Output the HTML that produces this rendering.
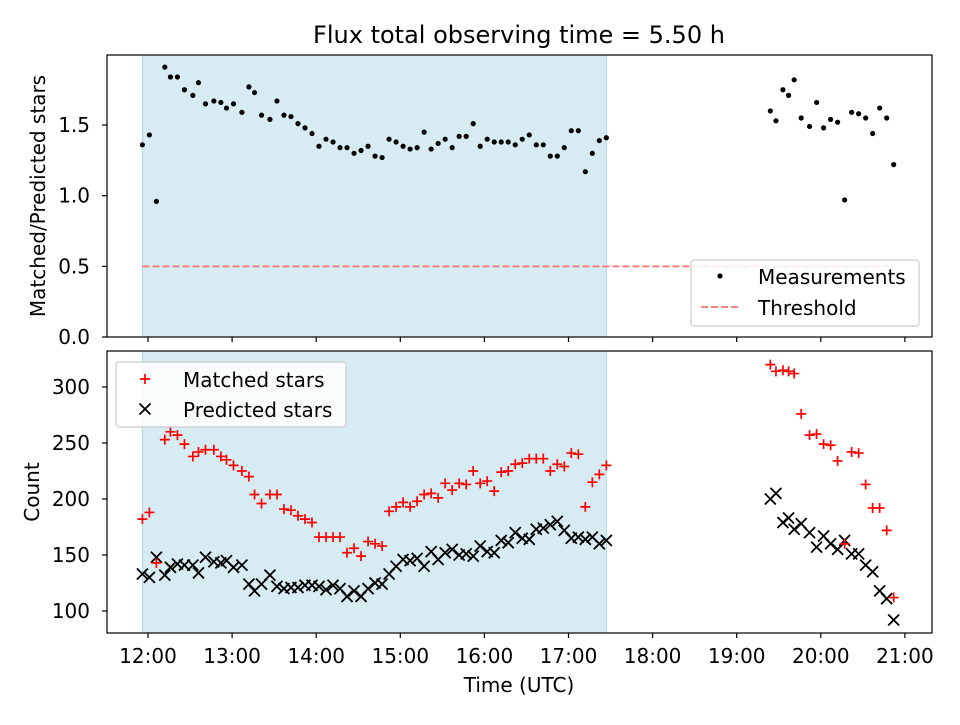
<!DOCTYPE html>
<html><head><meta charset="utf-8"><style>
body{margin:0;background:#fff;}
svg text{font-family:"DejaVu Sans","Liberation Sans",sans-serif;fill:#000;}
</style></head><body>
<svg id="chart" width="960" height="720" xmlns="http://www.w3.org/2000/svg"></svg>
<script>
// minutes after 12:00 UTC
const times1 = [-4,1,6,12,16,21,26,32,36,41,47,52,56,61,67,72,76,81,87,92,97,102,107,112,117,122,127,132,137,142,147,152,157,162,167,172,177,182,187,192,197,202,207,212,217,222,227,232,237,242,247,252,257,262,267,272,277,282,287,292,297,302,307,312,317,322,327];
const times2 = [444,448,453,457,461,466,472,477,482,487,492,497,502,507,512,517,522,527,532];
const ratio1 = [1.36,1.43,0.96,1.91,1.84,1.84,1.75,1.71,1.80,1.65,1.67,1.66,1.62,1.65,1.59,1.77,1.73,1.57,1.54,1.67,1.57,1.56,1.51,1.48,1.44,1.35,1.40,1.38,1.34,1.34,1.30,1.32,1.35,1.28,1.27,1.40,1.38,1.35,1.33,1.34,1.45,1.33,1.37,1.40,1.34,1.42,1.42,1.51,1.35,1.40,1.38,1.38,1.38,1.36,1.40,1.43,1.36,1.36,1.28,1.28,1.34,1.46,1.46,1.17,1.30,1.39,1.41];
const ratio2 = [1.60,1.53,1.75,1.71,1.82,1.55,1.49,1.66,1.48,1.54,1.52,0.97,1.59,1.58,1.55,1.44,1.62,1.55,1.22];
const matched1 = [182,188,143,253,260,257,249,238,242,244,244,238,235,230,225,220,204,196,204,204,191,190,185,182,179,166,166,166,166,152,156,149,162,160,158,189,193,197,193,198,204,205,201,214,208,214,213,225,214,216,207,224,225,231,232,236,236,236,225,231,229,241,240,193,215,222,230];
const matched2 = [320,314,315,314,312,276,257,258,249,248,234,160,242,241,213,192,192,172,112];
const predicted1 = [133,130,148,132,139,142,141,141,134,148,144,143,145,139,141,124,118,124,132,122,120,121,121,123,123,122,119,123,120,113,118,113,120,125,124,133,140,146,145,147,140,153,146,152,155,150,151,149,158,153,152,163,161,170,165,164,173,174,177,180,172,165,166,164,166,160,163];
const predicted2 = [200,205,179,183,173,178,170,157,167,160,155,163,151,151,141,135,118,111,92];
const threshold = 0.5;
const shadeStart = -4, shadeEnd = 327;
const xTickHours = [12,13,14,15,16,17,18,19,20,21];
const yTicksTop = [0.0,0.5,1.0,1.5];
const yTicksBot = [100,150,200,250,300];

const NS="http://www.w3.org/2000/svg";
const svg=document.getElementById('chart');
function el(tag,attrs,parent){const e=document.createElementNS(NS,tag);for(const k in attrs)e.setAttribute(k,attrs[k]);(parent||svg).appendChild(e);return e;}
const L=107,R=932;
const xS=m=>148+(m/60)*84.1;
const yTop=v=>337-v*141.3;
const yBot=v=>387+(300-v)*1.12;
const times=times1.concat(times2);

function group(name){
  const g=el('g',{});
  
  
  return g;
}
// top panel
const gt=group('top-panel');
const sh1=el('rect',{x:xS(shadeStart),y:55,width:xS(shadeEnd)-xS(shadeStart),height:282,fill:'#add8e6','fill-opacity':0.5,stroke:'#add8e6'},gt);


const th=el('line',{x1:xS(times[0]),x2:xS(times[times.length-1]),y1:yTop(threshold),y2:yTop(threshold),stroke:'#ff7070','stroke-width':1.8,'stroke-dasharray':'7,3'},gt);


ratio1.concat(ratio2).forEach((v,i)=>{
  const c=el('circle',{cx:xS(times[i]),cy:yTop(v),r:2.6,fill:'#000'},gt);
  
  
});
// bottom panel
const gb=group('bottom-panel');
const sh2=el('rect',{x:xS(shadeStart),y:351,width:xS(shadeEnd)-xS(shadeStart),height:282,fill:'#add8e6','fill-opacity':0.5,stroke:'#add8e6'},gb);


predicted1.concat(predicted2).forEach((v,i)=>{
  const x=xS(times[i]),y=yBot(v),s=5.5;
  const p=el('path',{d:`M${x-s},${y-s}L${x+s},${y+s}M${x-s},${y+s}L${x+s},${y-s}`,stroke:'#000','stroke-width':1.8,fill:'none'},gb);
  
  
});
matched1.concat(matched2).forEach((v,i)=>{
  const x=xS(times[i]),y=yBot(v),s=5;
  const p=el('path',{d:`M${x-s},${y}L${x+s},${y}M${x},${y-s}L${x},${y+s}`,stroke:'#ff0000','stroke-width':1.7,fill:'none'},gb);
  
  
});
// frames & ticks
[[55,337],[351,633]].forEach(([t,b],pi)=>{
  const f=el('rect',{x:L,y:t,width:R-L,height:b-t,fill:'none',stroke:'#000','stroke-width':1.2});
  
  
  xTickHours.forEach(h=>{
    const x=xS((h-12)*60);
    el('line',{x1:x,x2:x,y1:b,y2:b+5,stroke:'#000','stroke-width':1.2});
    if(pi){const tx=el('text',{x:x,y:b+30,'text-anchor':'middle','font-size':20});tx.textContent=h+':00';
      }
  });
});
yTicksTop.forEach(v=>{const y=yTop(v);el('line',{x1:L-5,x2:L,y1:y,y2:y,stroke:'#000','stroke-width':1.2});
  const t=el('text',{x:L-17,y:y+7,'text-anchor':'end','font-size':20});t.textContent=v.toFixed(1);
  });
yTicksBot.forEach(v=>{const y=yBot(v);el('line',{x1:L-5,x2:L,y1:y,y2:y,stroke:'#000','stroke-width':1.2});
  const t=el('text',{x:L-17,y:y+7,'text-anchor':'end','font-size':20});t.textContent=v;
  });
</script>
<svg width="960" height="720" style="position:absolute;left:0;top:0" xmlns="http://www.w3.org/2000/svg">
<text x="519" y="43" text-anchor="middle" font-size="24">Flux total observing time = 5.50 h</text>
<text transform="translate(45,196) rotate(-90)" text-anchor="middle" font-size="20">Matched/Predicted stars</text>
<text transform="translate(39,492) rotate(-90)" text-anchor="middle" font-size="20">Count</text>
<text x="519" y="692" text-anchor="middle" font-size="20">Time (UTC)</text>
<g>
<rect x="691" y="260" width="228" height="66" rx="3" fill="#fff" fill-opacity="0.85" stroke="#ccc" stroke-width="1.2"/>
<circle cx="720" cy="276" r="2.6" fill="#000"/>
<text x="758" y="284" font-size="20">Measurements</text>
<line x1="701" x2="739" y1="307" y2="307" stroke="#ff7070" stroke-width="1.8" stroke-dasharray="7,3"/>
<text x="758" y="315" font-size="20">Threshold</text>
</g>
<g>
<rect x="116" y="362" width="230" height="65" rx="3" fill="#fff" fill-opacity="0.85" stroke="#ccc" stroke-width="1.2"/>
<path d="M140,379L150,379M145,374L145,384" stroke="#f00" stroke-width="1.7"/>
<text x="183" y="387" font-size="20">Matched stars</text>
<path d="M139.5,403.5L150.5,414.5M139.5,414.5L150.5,403.5" stroke="#000" stroke-width="1.8"/>
<text x="183" y="417" font-size="20">Predicted stars</text>
</g>
</svg>
</body></html>
